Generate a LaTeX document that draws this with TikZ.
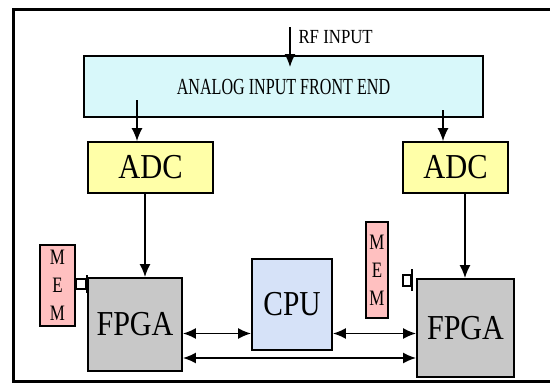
\documentclass[tikz,border=0pt]{standalone}
\usepackage{fontspec}
\usepackage{graphicx}
\setmainfont{Liberation Serif}
\usetikzlibrary{arrows.meta}
\definecolor{afecol}{RGB}{216,248,250}
\definecolor{adccol}{RGB}{255,255,168}
\definecolor{fpgacol}{RGB}{200,200,200}
\definecolor{cpucol}{RGB}{214,226,248}
\definecolor{memcol}{RGB}{255,192,192}
\newcommand{\narrowtxt}[2]{\scalebox{#1}[1]{#2}}
\begin{document}
\begin{tikzpicture}[x=1pt,y=-1pt,
    blk/.style={draw,line width=1.8pt,inner sep=0pt,align=center},
    big/.style={font=\fontsize{35}{36}\selectfont},
    arr/.style={line width=1.8pt,-{Latex[length=13pt,width=11pt]}},
    arrs/.style={line width=1.8pt,{Latex[length=13pt,width=11pt]}-{Latex[length=13pt,width=11pt]}},
    port/.style={line width=1.2pt,fill=white}]
    \useasboundingbox (0,0) rectangle (550,383);
    \fill[white] (0,0) rectangle (550,383);
    \draw[line width=3pt] (13,9) rectangle (570,381);

    % front end
    \node[blk,fill=afecol,minimum width=399pt,minimum height=61pt,
          font=\fontsize{23}{24}\selectfont] (afe) at (283.5,86.5) {\narrowtxt{0.7}{ANALOG INPUT FRONT END}};
    \coordinate (rfin) at (290,27);
    \coordinate (rftip) at (290,67);
    \node[anchor=west,font=\fontsize{20}{22}\selectfont] (rflbl) at (295,37) {\narrowtxt{0.84}{RF INPUT}};
    \draw[arr,line width=1.4pt] (rfin) -- (rftip);

    % converters
    \node[blk,big,fill=adccol,minimum width=125pt,minimum height=51pt] (adcL) at (150.5,167.5) {\narrowtxt{0.87}{ADC}};
    \node[blk,big,fill=adccol,minimum width=105pt,minimum height=51pt] (adcR) at (455.5,167.5) {\narrowtxt{0.87}{ADC}};
    \coordinate (outL) at (137,100);
    \coordinate (outR) at (443,110);
    \draw[arr,line width=1.4pt] (outL) -- (outL |- adcL.north);
    \draw[arr,line width=1.4pt] (outR) -- (outR |- adcR.north);

    % processing
    \node[blk,big,fill=fpgacol,minimum width=94pt,minimum height=93pt] (fpgaL) at (135,324.5) {\narrowtxt{0.86}{FPGA}};
    \node[blk,big,fill=fpgacol,minimum width=97pt,minimum height=98pt] (fpgaR) at (465.5,328) {\narrowtxt{0.86}{FPGA}};
    \node[blk,big,fill=cpucol,minimum width=80pt,minimum height=91pt] (cpu) at (292,304.5) {\narrowtxt{0.84}{CPU}};
    \draw[arr] ([xshift=-5.5pt]adcL.south) -- ([xshift=10pt]fpgaL.north);
    \draw[arr] ([xshift=9.5pt]adcR.south) -- ([xshift=-0.5pt]fpgaR.north);

    % memories
    \node[blk,fill=memcol,minimum width=35pt,minimum height=81pt,
          font=\fontsize{22}{28}\selectfont] (memL) at (57.5,285.5)
          {\narrowtxt{0.77}{M}\\\narrowtxt{0.77}{E}\\\narrowtxt{0.77}{M}};
    \node[blk,fill=memcol,minimum width=22pt,minimum height=96pt,
          font=\fontsize{22}{28}\selectfont] (memR) at (377,270)
          {\narrowtxt{0.77}{M}\\\narrowtxt{0.77}{E}\\\narrowtxt{0.77}{M}};
    \draw[port] (76,279) rectangle (86,289);
    \draw[line width=1.2pt] (87,275) -- (87,293);
    \draw[port] (403,275) rectangle (411,286);
    \draw[line width=1.2pt] (412,269) -- (412,291);

    % buses
    \coordinate (bus1) at (0,333.5);
    \coordinate (bus2) at (0,358);
    \draw[arrs] (fpgaL.east |- bus1) -- (cpu.west |- bus1);
    \draw[arrs] (cpu.east |- bus1) -- (fpgaR.west |- bus1);
    \draw[arrs] (fpgaL.east |- bus2) -- (fpgaR.west |- bus2);
\end{tikzpicture}
\end{document}
